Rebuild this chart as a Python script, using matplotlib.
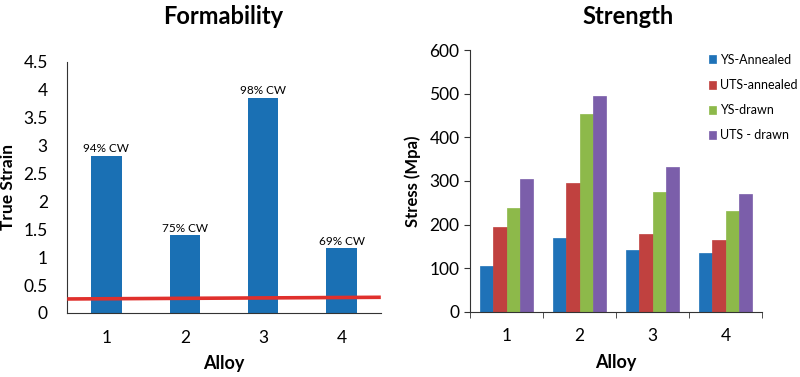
import matplotlib
matplotlib.use('Agg')
import numpy as np
import matplotlib.pyplot as plt

plt.rcParams['font.family'] = ['Lato', 'DejaVu Sans']

# ---- data ----
alloys = ['1', '2', '3', '4']
true_strain = [2.82, 1.39, 3.86, 1.16]
cw_labels = ['94% CW', '75% CW', '98% CW', '69% CW']
limit_line = [0.25, 0.28]   # red reference line, left end / right end

series_names = ['YS-Annealed', 'UTS-annealed', 'YS-drawn', 'UTS - drawn']
ys_annealed = [104, 169, 142, 134]
uts_annealed = [194, 295, 179, 164]
ys_drawn = [238, 454, 275, 230]
uts_drawn = [304, 495, 333, 269]
series_colors = ['#1F72B8', '#C0413F', '#8DB94A', '#7B5EAA']

fig = plt.figure(figsize=(8, 3.77), dpi=100)

# ============ Formability ============
ax1 = fig.add_axes([0.084, 0.170, 0.392, 0.666])
x = np.arange(1, len(alloys) + 1)
ax1.bar(x, true_strain, width=0.39, color='#1A70B4', zorder=2)
for xi, v, lab in zip(x, true_strain, cw_labels):
    ax1.text(xi, v + 0.03, lab, ha='center', va='bottom', fontsize=8.5)
ax1.plot([0.5, 4.5], limit_line, color='#E0302C', linewidth=2.6, zorder=3,
         solid_capstyle='butt')
ax1.set_xlim(0.5, 4.5)
ax1.set_ylim(0, 4.5)
ax1.set_yticks(np.arange(0, 4.51, 0.5))
ax1.set_yticklabels(['0', '0.5', '1', '1.5', '2', '2.5', '3', '3.5', '4', '4.5'])
ax1.set_xticks(x)
ax1.set_xticklabels(alloys)
ax1.tick_params(axis='both', length=0, labelsize=12.5)
ax1.tick_params(axis='y', pad=14)
ax1.tick_params(axis='x', pad=12)
for s in ['top', 'right']:
    ax1.spines[s].set_visible(False)
ax1.spines['left'].set_color('#333333')
ax1.spines['bottom'].set_color('#333333')
ax1.set_ylabel('True Strain', fontsize=12.5, fontweight='bold', labelpad=5)
ax1.set_xlabel('Alloy', fontsize=13, fontweight='bold', labelpad=7)

# ============ Strength ============
ax2 = fig.add_axes([0.5875, 0.173, 0.365, 0.694])
w = 0.18
all_series = [ys_annealed, uts_annealed, ys_drawn, uts_drawn]
for i, (vals, name, c) in enumerate(zip(all_series, series_names, series_colors)):
    ax2.bar(x + (i - 1.5) * w, vals, width=w, color=c, label=name,
            edgecolor=c, linewidth=0.5, zorder=2)
ax2.set_xlim(0.5, 4.5)
ax2.set_ylim(0, 600)
ax2.set_yticks(range(0, 601, 100))
ax2.set_xticks(x)
ax2.set_xticklabels(alloys)
ax2.set_xticks(np.arange(0.5, 4.51, 1), minor=True)
ax2.tick_params(axis='x', which='major', length=0, labelsize=12.5, pad=12)
ax2.tick_params(axis='x', which='minor', length=4, direction='out', color='#333333')
ax2.tick_params(axis='y', length=4, direction='out', labelsize=12.5, color='#333333')
for s in ['top', 'right']:
    ax2.spines[s].set_visible(False)
ax2.spines['left'].set_color('#333333')
ax2.spines['bottom'].set_color('#333333')
ax2.set_ylabel('Stress (Mpa)', fontsize=12, fontweight='bold', labelpad=6)
ax2.set_xlabel('Alloy', fontsize=13, fontweight='bold', labelpad=7)
ax2.legend(loc='upper left', bbox_to_anchor=(0.8, 1.005), frameon=False,
           fontsize=9, handlelength=0.6, handleheight=0.6, handletextpad=0.3,
           labelspacing=1.05, borderaxespad=0)

fig.text(0.279, 0.955, 'Formability', ha='center', va='center',
         fontsize=17, fontweight='bold')
fig.text(0.785, 0.955, 'Strength', ha='center', va='center',
         fontsize=17, fontweight='bold')

fig.savefig('out.png', dpi=100)
